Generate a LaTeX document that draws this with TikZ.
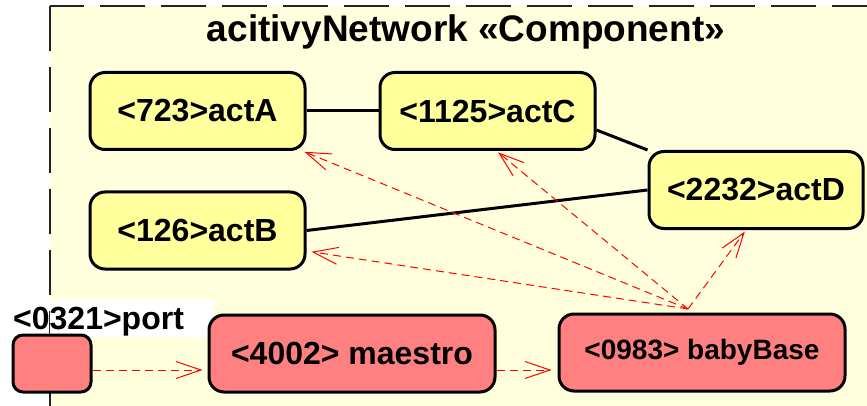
\documentclass[tikz,border=0pt]{standalone}
\usepackage{fontspec}
\setmainfont{Liberation Sans}
\usetikzlibrary{arrows.meta,calc}
\definecolor{bgyellow}{HTML}{FFFFDD}
\definecolor{boxyellow}{HTML}{FFFF9C}
\definecolor{boxred}{HTML}{FF8080}
\definecolor{framegray}{HTML}{222222}
\tikzset{
  act/.style={draw=black, line width=3pt, rounded corners=15pt, fill=boxyellow,
    minimum width=215pt, minimum height=77pt, inner sep=0pt,
    font=\fontsize{32}{38}\selectfont\bfseries},
  comp/.style={draw=black, line width=3pt, rounded corners=15pt, fill=boxred,
    minimum width=286pt, minimum height=77pt, inner sep=0pt,
    font=\fontsize{32}{38}\selectfont\bfseries},
  portbox/.style={draw=black, line width=3pt, rounded corners=10pt, fill=boxred,
    minimum width=78pt, minimum height=57pt, inner sep=0pt},
  link/.style={draw=black, line width=3pt},
  framedash/.style={framegray, line width=1.5pt, dash pattern=on 45pt off 16pt},
  dep/.style={draw=red, line width=1pt, dash pattern=on 8pt off 5pt,
    -{Straight Barb[length=25pt,width=17pt,line width=1pt]}, shorten >=2pt},
}
\begin{document}
\begin{tikzpicture}[x=1pt,y=-1pt]
\useasboundingbox (0,0) rectangle (867,406);
\fill[white] (0,0) rectangle (867,406);
\fill[bgyellow] (50,6) rectangle (867,406);
\coordinate (corner) at (50,6);
\draw[framedash, dash phase=11pt] (corner) -- (867,6);
\draw[framedash, dash phase=0pt] (corner) -- (50,406);
\fill[white] (50,300) rectangle (214,337);
\node[anchor=base, font=\fontsize{37}{44}\selectfont\bfseries] (title) at (466,42) {acitivyNetwork «Component»};

\node[act] (actA) at (197.5,111) {<723>actA};
\node[act] (actC) at (487.5,111) {<1125>actC};
\node[act] (actB) at (197.5,230.5) {<126>actB};
\node[act, minimum width=214pt] (actD) at (756,190) {<2232>actD};

\node[anchor=base west, font=\fontsize{32}{38}\selectfont\bfseries, inner sep=0pt] (portlabel) at (13,329) {<0321>port};
\node[portbox] (port) at (52,363.5) {};
\node[comp] (maestro) at (352,353.5) {<4002> maestro};
\node[comp, font=\fontsize{28}{34}\selectfont\bfseries] (baby) at (702,352.5) {<0983> babyBase};

\draw[link] (actA.east) -- (actC.west);
\draw[link] ($(actC.east)+(0,19)$) -- (actD.north west);
\draw[link] (actB.east) -- (actD.west);

\coordinate (src) at (688,309);
\draw[dep] (src) -- ($(actA.south east)+(-4,0)$);
\draw[dep] (src) -- ($(actC.south)+(9,0)$);
\draw[dep] (src) -- ($(actB.east)+(3,21)$);
\draw[dep] (src) -- ($(actD.south)+(-10,0)$);

\draw[dep, shorten >=5pt] ($(port.east)+(0,6.5)$) -- ($(maestro.west)+(0,16.5)$);
\draw[dep, shorten >=6pt] ($(maestro.east)+(0,16.5)$) -- ($(baby.west)+(0,17.5)$);
\end{tikzpicture}
\end{document}
